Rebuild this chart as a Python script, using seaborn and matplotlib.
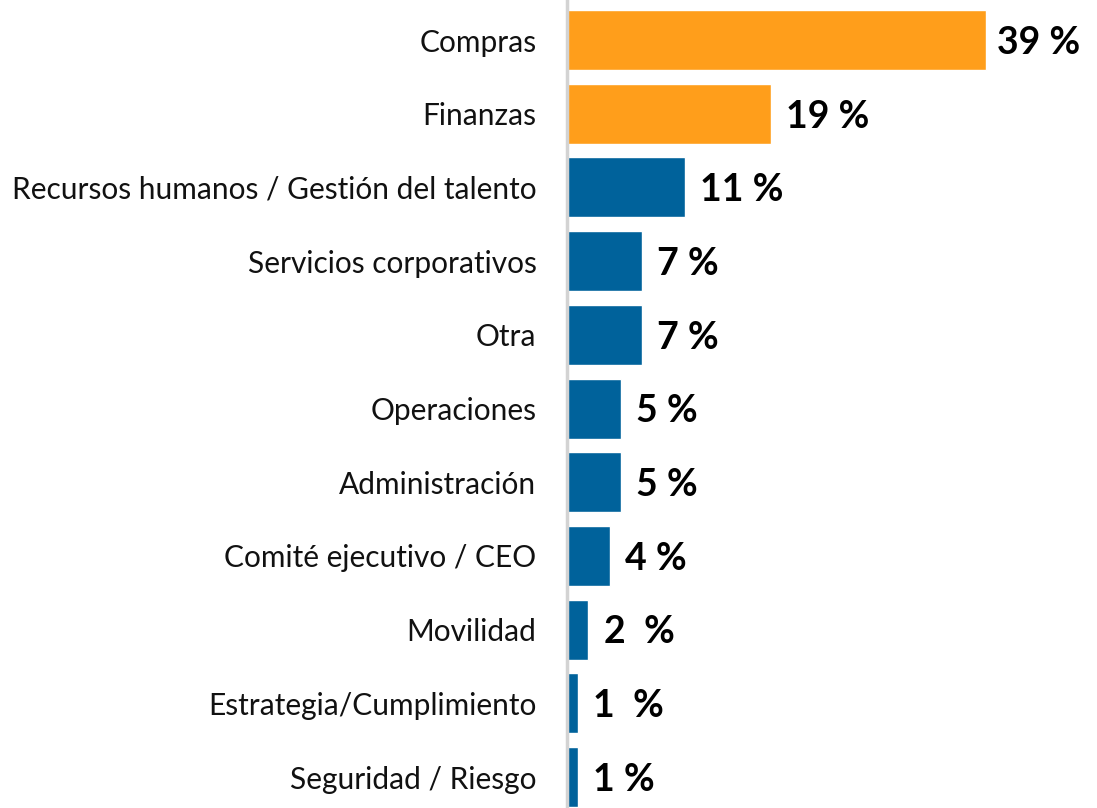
import pandas as pd
import matplotlib.pyplot as plt
import seaborn as sns

# Data
categories = ['Compras', 'Finanzas', 'Recursos humanos / Gestión del talento',
              'Servicios corporativos', 'Otra', 'Operaciones', 'Administración',
              'Comité ejecutivo / CEO', 'Movilidad', 'Estrategia/Cumplimiento',
              'Seguridad / Riesgo']
values = [39, 19, 11, 7, 7, 5, 5, 4, 2, 1, 1]
value_labels = ['39 %', '19 %', '11 %', '7 %', '7 %', '5 %', '5 %', '4 %',
                '2  %', '1  %', '1 %']
highlight = ['Compras', 'Finanzas']

orange = '#FF9E1B'
blue = '#00629B'
palette = {c: (orange if c in highlight else blue) for c in categories}

df = pd.DataFrame({'categoria': categories, 'valor': values})

sns.set_style('white')
plt.rcParams['font.family'] = ['Lato', 'DejaVu Sans']

fig = plt.figure(figsize=(10.97, 8.08), dpi=100)
ax = fig.add_axes([567 / 1097, 0, 530 / 1097, 1])

sns.barplot(data=df, x='valor', y='categoria', hue='categoria', palette=palette,
            legend=False, width=0.814, orient='h', ax=ax, saturation=1)

for i, (v, lab) in enumerate(zip(values, value_labels)):
    ax.annotate(lab, xy=(v, i), xytext=(8 if i == 0 else 11, -2),
                textcoords='offset points', va='center', ha='left',
                fontsize=27, fontweight='bold', color='black')

ax.set_xlim(0, 49.35)
ax.set_ylim(10.42, -0.543)
ax.set_xlabel('')
ax.set_ylabel('')
ax.set_xticks([])
ax.tick_params(axis='y', length=0, pad=22, labelsize=21.5, labelcolor='#111111')

for side in ['top', 'right', 'bottom']:
    ax.spines[side].set_visible(False)
ax.spines['left'].set_color('#d3d3d3')
ax.spines['left'].set_linewidth(2.5)

fig.savefig('out.png', dpi=100)
